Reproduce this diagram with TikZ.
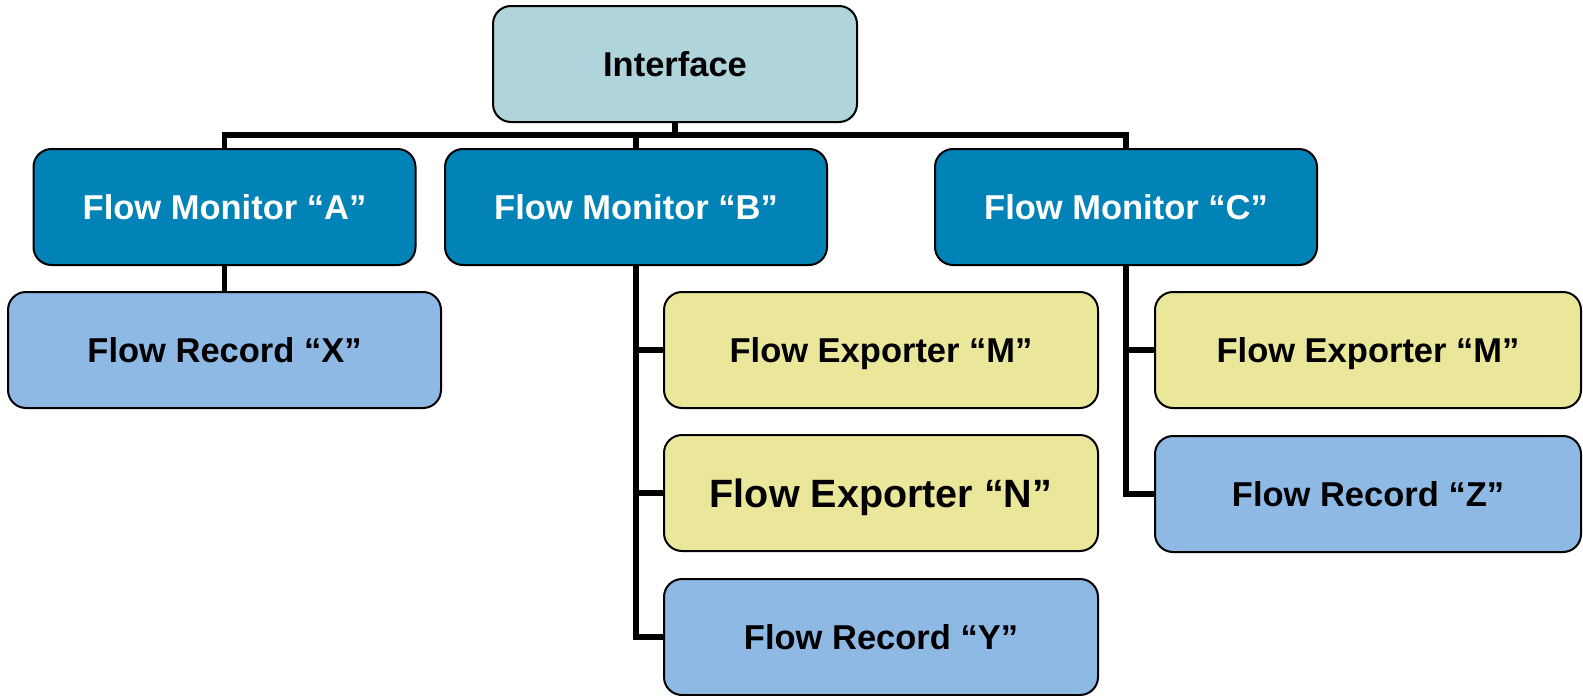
\documentclass[tikz,border=0pt]{standalone}
\usepackage{fontspec}
\setmainfont{Liberation Sans}
\definecolor{ifacecol}{HTML}{AFD4DC}
\definecolor{moncol}{HTML}{0283B7}
\definecolor{expcol}{HTML}{EAE79A}
\definecolor{reccol}{HTML}{8EB9E5}
\tikzset{
  box/.style={draw=black, line width=2pt, rounded corners=18pt, inner sep=0pt,
    font=\fontsize{34.5}{40}\selectfont\bfseries, align=center,
    text height=24.7pt, text depth=0pt},
  iface/.style={box, fill=ifacecol, minimum width=364pt, minimum height=116pt},
  monitor/.style={box, fill=moncol, text=white, minimum width=382pt, minimum height=116pt},
  exporter/.style={box, fill=expcol, minimum width=434pt, minimum height=116pt},
  record/.style={box, fill=reccol, minimum width=434pt, minimum height=116pt},
  conn/.style={draw=black, line width=5.5pt, line join=miter}
}
\begin{document}
\begin{tikzpicture}[x=1pt, y=-1pt]
  \useasboundingbox (0,0) rectangle (1583,696);

  % junction of the top bus under the interface box
  \coordinate (bus) at (675,135);

  % boxes
  \node[iface]   (I)  at (675,64)    {Interface};
  \node[monitor] (A)  at (224.5,207) {Flow Monitor “A”};
  \node[monitor] (B)  at (636,207)   {Flow Monitor “B”};
  \node[monitor] (C)  at (1126,207)  {Flow Monitor “C”};
  \node[record, minimum width=433pt] (X) at (224.5,350) {Flow Record “X”};
  \node[exporter] (BM) at (881,350)  {Flow Exporter “M”};
  \node[exporter, font=\fontsize{39.5}{44}\selectfont\bfseries, text height=28.3pt] (BN) at (881,493) {Flow Exporter “N”};
  \node[record]   (BY) at (881,637)  {Flow Record “Y”};
  \node[exporter, minimum width=426pt] (CM) at (1368,350) {Flow Exporter “M”};
  \node[record, minimum width=426pt]   (CZ) at (1368,494) {Flow Record “Z”};

  % tree lines
  \draw[conn] (I.south) -- (bus);
  \draw[conn] (A.north) |- (bus) -| (C.north);
  \draw[conn] (B.north) -- (B.north |- bus);
  \draw[conn] (A.south) -- (X.north);
  \draw[conn] (B.south) |- (BY.west);
  \draw[conn] (B.south |- BM.west) -- (BM.west);
  \draw[conn] (B.south |- BN.west) -- (BN.west);
  \draw[conn] (C.south) |- (CZ.west);
  \draw[conn] (C.south |- CM.west) -- (CM.west);
\end{tikzpicture}
\end{document}
